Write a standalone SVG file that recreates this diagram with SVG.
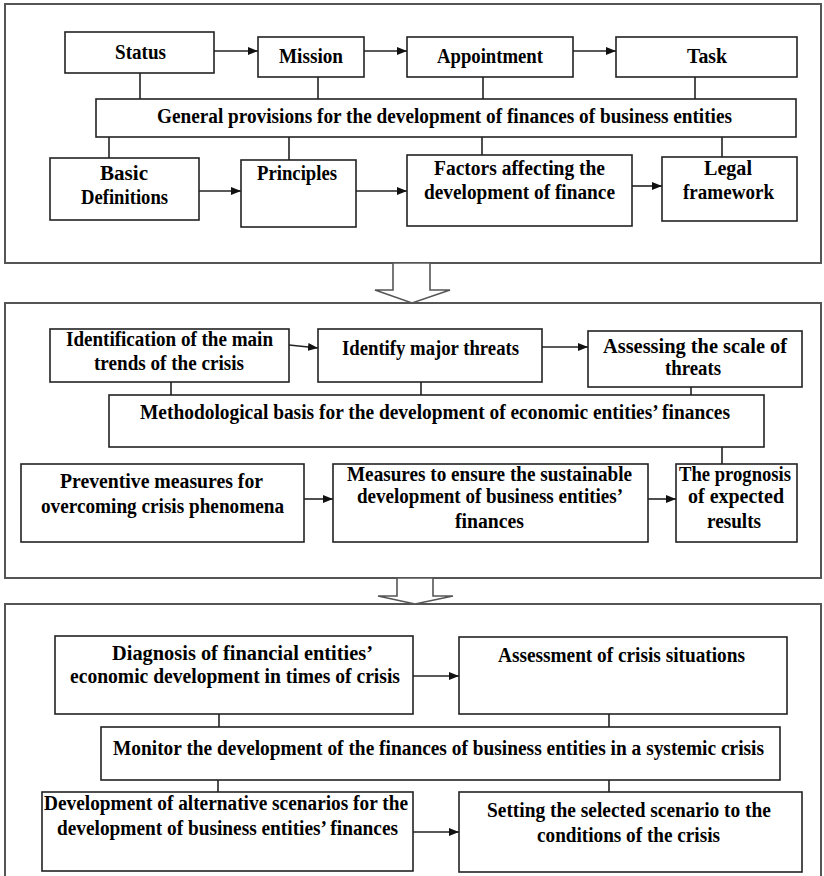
<svg xmlns="http://www.w3.org/2000/svg" width="824" height="876" viewBox="0 0 824 876">
<defs>
<marker id="ah" markerUnits="userSpaceOnUse" markerWidth="10" markerHeight="8" refX="10" refY="4" orient="auto">
<path d="M0,0 L10,4 L0,8 z" fill="#111"/>
</marker>
<style>
.panel{fill:#fff;stroke:#555;stroke-width:2}
.box{fill:#fff;stroke:#222;stroke-width:1.6}
.ln{fill:none;stroke:#222;stroke-width:1.6}
.ar{fill:none;stroke:#222;stroke-width:1.6;marker-end:url(#ah)}
.blk{fill:#fff;stroke:#555;stroke-width:1.6}
text{font-family:"Liberation Serif","Times New Roman",serif;font-weight:bold;font-size:20px;fill:#000}
</style>
</defs>
<rect width="824" height="876" fill="#fff"/>

<g id="panels">
<rect class="panel" x="5" y="4" width="816" height="259"/>
<rect class="panel" x="5" y="303" width="816" height="275"/>
<rect class="panel" x="5" y="604" width="816" height="274"/>
</g>

<g id="transitions">
<path class="blk" d="M393,263 L393,290 L375,290 L412,303 L450,290 L430,290 L430,263 Z"/>
<path class="blk" d="M397,578 L397,596 L378,596 L415,604 L453,596 L433,596 L433,578 Z"/>
</g>

<g id="connectors">
<line class="ar" x1="214" y1="51" x2="258" y2="51"/>
<line class="ar" x1="364" y1="51" x2="407" y2="51"/>
<line class="ar" x1="573" y1="51" x2="616" y2="51"/>
<line class="ln" x1="140" y1="73" x2="140" y2="99"/>
<line class="ln" x1="318" y1="77" x2="318" y2="99"/>
<line class="ln" x1="483" y1="77" x2="483" y2="99"/>
<line class="ln" x1="695" y1="77" x2="695" y2="99"/>
<line class="ln" x1="109" y1="137" x2="109" y2="158"/>
<line class="ln" x1="289" y1="137" x2="289" y2="160"/>
<line class="ln" x1="482" y1="137" x2="482" y2="155"/>
<line class="ln" x1="722" y1="137" x2="722" y2="157"/>
<line class="ar" x1="199" y1="191" x2="241" y2="191"/>
<line class="ar" x1="356" y1="191" x2="407" y2="191"/>
<line class="ar" x1="632" y1="186" x2="662" y2="186"/>
<line class="ar" x1="289" y1="345" x2="318" y2="348"/>
<line class="ar" x1="542" y1="347" x2="588" y2="347"/>
<line class="ln" x1="171" y1="382" x2="171" y2="395"/>
<line class="ln" x1="421" y1="382" x2="421" y2="395"/>
<line class="ln" x1="691" y1="387" x2="691" y2="395"/>
<line class="ln" x1="722" y1="447" x2="722" y2="464"/>
<line class="ar" x1="304" y1="499" x2="333" y2="499"/>
<line class="ar" x1="648" y1="499" x2="676" y2="499"/>
<line class="ar" x1="413" y1="676" x2="459" y2="676"/>
<line class="ln" x1="219" y1="714" x2="219" y2="727"/>
<line class="ln" x1="609" y1="714" x2="609" y2="727"/>
<line class="ln" x1="218" y1="780" x2="218" y2="792"/>
<line class="ln" x1="609" y1="780" x2="609" y2="792"/>
<line class="ar" x1="413" y1="832" x2="459" y2="832"/>
</g>

<g id="status">
<rect class="box" x="65" y="32" width="149" height="41"/>
<text x="115" y="59" textLength="51" lengthAdjust="spacingAndGlyphs">Status</text>
</g>
<g id="mission">
<rect class="box" x="258" y="37" width="106" height="40"/>
<text x="279" y="63" textLength="64" lengthAdjust="spacingAndGlyphs">Mission</text>
</g>
<g id="appointment">
<rect class="box" x="407" y="37" width="166" height="40"/>
<text x="437" y="63" textLength="106" lengthAdjust="spacingAndGlyphs">Appointment</text>
</g>
<g id="task">
<rect class="box" x="616" y="37" width="181" height="40"/>
<text x="687" y="63" textLength="40" lengthAdjust="spacingAndGlyphs">Task</text>
</g>
<g id="general">
<rect class="box" x="96" y="99" width="700" height="38"/>
<text x="157" y="123" textLength="575" lengthAdjust="spacingAndGlyphs">General provisions  for the development of finances of business entities</text>
</g>
<g id="basic">
<rect class="box" x="50" y="158" width="149" height="62"/>
<text x="100" y="180" textLength="48" lengthAdjust="spacingAndGlyphs">Basic</text>
<text x="81" y="204" textLength="87" lengthAdjust="spacingAndGlyphs">Definitions</text>
</g>
<g id="principles">
<rect class="box" x="241" y="160" width="115" height="67"/>
<text x="257" y="180" textLength="80" lengthAdjust="spacingAndGlyphs">Principles</text>
</g>
<g id="factors">
<rect class="box" x="407" y="155" width="225" height="71"/>
<text x="434" y="175" textLength="171" lengthAdjust="spacingAndGlyphs">Factors affecting the</text>
<text x="424" y="199" textLength="191" lengthAdjust="spacingAndGlyphs">development of finance</text>
</g>
<g id="legal">
<rect class="box" x="662" y="157" width="135" height="64"/>
<text x="704" y="175" textLength="48" lengthAdjust="spacingAndGlyphs">Legal</text>
<text x="683" y="199" textLength="91" lengthAdjust="spacingAndGlyphs">framework</text>
</g>

<g id="identification">
<rect class="box" x="50" y="329" width="239" height="53"/>
<text x="66" y="346" textLength="207" lengthAdjust="spacingAndGlyphs">Identification  of the main</text>
<text x="94" y="370" textLength="150" lengthAdjust="spacingAndGlyphs">trends of the crisis</text>
</g>
<g id="identify">
<rect class="box" x="318" y="329" width="224" height="53"/>
<text x="342" y="355" textLength="177" lengthAdjust="spacingAndGlyphs">Identify major threats</text>
</g>
<g id="assessing">
<rect class="box" x="588" y="331" width="214" height="56"/>
<text x="603" y="353" textLength="184" lengthAdjust="spacingAndGlyphs">Assessing the scale of</text>
<text x="665" y="375" textLength="56" lengthAdjust="spacingAndGlyphs">threats</text>
</g>
<g id="methodological">
<rect class="box" x="109" y="395" width="655" height="52"/>
<text x="140" y="419" textLength="590" lengthAdjust="spacingAndGlyphs">Methodological  basis for the development of economic entities’ finances</text>
</g>
<g id="preventive">
<rect class="box" x="21" y="464" width="283" height="78"/>
<text x="60" y="488" textLength="203" lengthAdjust="spacingAndGlyphs">Preventive measures for</text>
<text x="41" y="513" textLength="243" lengthAdjust="spacingAndGlyphs">overcoming  crisis phenomena</text>
</g>
<g id="measures">
<rect class="box" x="333" y="464" width="315" height="78"/>
<text x="347" y="481" textLength="285" lengthAdjust="spacingAndGlyphs">Measures to ensure the sustainable</text>
<text x="357" y="503" textLength="266" lengthAdjust="spacingAndGlyphs">development of business entities’</text>
<text x="455" y="528" textLength="69" lengthAdjust="spacingAndGlyphs">finances</text>
</g>
<g id="prognosis">
<rect class="box" x="676" y="464" width="121" height="78"/>
<text x="679" y="481" textLength="112" lengthAdjust="spacingAndGlyphs">The prognosis</text>
<text x="688" y="503" textLength="96" lengthAdjust="spacingAndGlyphs">of expected</text>
<text x="707" y="528" textLength="54" lengthAdjust="spacingAndGlyphs">results</text>
</g>

<g id="diagnosis">
<rect class="box" x="55" y="636" width="358" height="78"/>
<text x="112" y="660" textLength="261" lengthAdjust="spacingAndGlyphs">Diagnosis of financial entities’</text>
<text x="70" y="683" textLength="330" lengthAdjust="spacingAndGlyphs">economic development in times of crisis</text>
</g>
<g id="assessment">
<rect class="box" x="459" y="637" width="328" height="77"/>
<text x="498" y="662" textLength="247" lengthAdjust="spacingAndGlyphs">Assessment of crisis situations</text>
</g>
<g id="monitor">
<rect class="box" x="101" y="727" width="679" height="53"/>
<text x="113" y="755" textLength="651" lengthAdjust="spacingAndGlyphs">Monitor the development of the finances of business entities in a systemic crisis</text>
</g>
<g id="development">
<rect class="box" x="42" y="792" width="371" height="79"/>
<text x="44" y="810" textLength="364" lengthAdjust="spacingAndGlyphs">Development of alternative scenarios for the</text>
<text x="57" y="835" textLength="341" lengthAdjust="spacingAndGlyphs">development of business entities’ finances</text>
</g>
<g id="setting">
<rect class="box" x="459" y="792" width="343" height="80"/>
<text x="487" y="817" textLength="284" lengthAdjust="spacingAndGlyphs">Setting the selected scenario to the</text>
<text x="537" y="842" textLength="183" lengthAdjust="spacingAndGlyphs">conditions  of the crisis</text>
</g>
</svg>
